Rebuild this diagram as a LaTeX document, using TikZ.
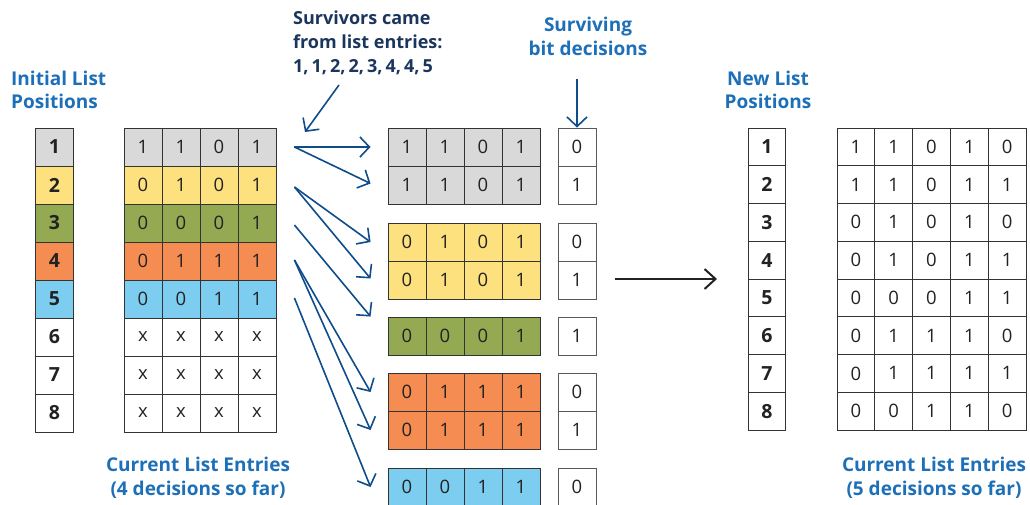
\documentclass[tikz,border=0pt]{standalone}
\usepackage{fontspec}
\setmainfont{Open Sans}
\usetikzlibrary{arrows.meta}
\definecolor{cgray}{HTML}{D9D9D9}
\definecolor{cyellow}{HTML}{FDE17E}
\definecolor{cgreen}{HTML}{93A952}
\definecolor{corange}{HTML}{F58C51}
\definecolor{cblue}{HTML}{7DCDF1}
\definecolor{tblue}{HTML}{1D6FB8}
\definecolor{navy}{HTML}{1B365D}
\definecolor{arrblue}{HTML}{0E4D8A}
\definecolor{gridline}{HTML}{333333}
\definecolor{txt}{HTML}{222222}
\begin{document}
\begin{tikzpicture}[x=1pt,y=-1pt,
  cell/.style={draw=gridline, line width=0.9pt, minimum width=38pt, minimum height=38pt,
    inner sep=0pt, text=txt, font=\fontsize{18.5}{18.5}\selectfont},
  ncell/.style={cell, minimum width=37.8pt, minimum height=37.75pt},
  poscell/.style={cell, font=\fontsize{19.5}{20}\bfseries\selectfont},
  nposcell/.style={ncell, font=\fontsize{19.5}{20}\bfseries\selectfont},
  title/.style={text=tblue, font=\fontsize{19}{23.5}\bfseries\selectfont, inner sep=0pt},
  survarrow/.style={draw=arrblue, line width=1.6pt,
    -{Straight Barb[length=9.5pt,width=20pt]}},
  bigarrow/.style={draw=txt, line width=2pt,
    -{Straight Barb[length=11pt,width=20pt]}}
]
\useasboundingbox (0,0) rectangle (1030,504);

% titles
\node[title, align=left, anchor=west] (tInit) at (11,90) {Initial List\\Positions};
\node[title, align=center] (tSurv) at (588,36.5) {Surviving\\bit decisions};
\node[title, align=center] (tNew) at (768,90) {New List\\Positions};
\node[title, align=center] (tCur) at (198,478) {Current List Entries\\(4 decisions so far)};
\node[title, align=center] (tCur5) at (934,478) {Current List Entries\\(5 decisions so far)};
\node[text=navy, font=\fontsize{18}{24}\bfseries\selectfont, inner sep=0pt, align=left, anchor=west]
  (tCame) at (293,42.5) {Survivors came\\from list entries:\\1,\,1,\,2,\,2,\,3,\,4,\,4,\,5};

% initial list positions
\foreach \i/\col in {1/cgray,2/cyellow,3/cgreen,4/corange,5/cblue,6/white,7/white,8/white}
  \node[poscell, fill=\col] (p\i) at (54.5,{147+38*(\i-1)}) {\i};

% current list entries
\foreach \r/\col/\bits in {1/cgray/{1,1,0,1},2/cyellow/{0,1,0,1},3/cgreen/{0,0,0,1},
    4/corange/{0,1,1,1},5/cblue/{0,0,1,1},6/white/{x,x,x,x},7/white/{x,x,x,x},8/white/{x,x,x,x}}
  \foreach \v [count=\j] in \bits
    \node[cell, fill=\col] (c\r-\j) at ({143+38*(\j-1)},{147+38*(\r-1)}) {\v};

% surviving paths
\foreach \r/\top/\col/\bits/\d in {1/128/cgray/{1,1,0,1}/0,2/166/cgray/{1,1,0,1}/1,
    3/223/cyellow/{0,1,0,1}/0,4/261/cyellow/{0,1,0,1}/1,5/317/cgreen/{0,0,0,1}/1,
    6/373/corange/{0,1,1,1}/0,7/411/corange/{0,1,1,1}/1,8/468/cblue/{0,0,1,1}/0}
{
  \foreach \v [count=\j] in \bits
    \node[cell, fill=\col] (m\r-\j) at ({407+38*(\j-1)},{\top+19}) {\v};
  \node[cell, draw=black!65] (b\r) at (577,{\top+19}) {\d};
}

% new list positions
\foreach \i in {1,...,8}
  \node[nposcell] (q\i) at (767,{128+37.75*(\i-0.5)}) {\i};

% new list entries
\foreach \r/\bits in {1/{1,1,0,1,0},2/{1,1,0,1,1},3/{0,1,0,1,0},4/{0,1,0,1,1},
    5/{0,0,0,1,1},6/{0,1,1,1,0},7/{0,1,1,1,1},8/{0,0,1,1,0}}
  \foreach \v [count=\j] in \bits
    \node[ncell] (n\r-\j) at ({837+37.8*(\j-0.5)},{128+37.75*(\r-0.5)}) {\v};

% connectors from current entries to survivors
\draw[survarrow] ([xshift=18pt]c1-4.east) -- ([xshift=-17pt]m1-1.west);
\draw[survarrow] ([xshift=18pt]c1-4.east) -- ([xshift=-17pt,yshift=1.5pt]m2-1.west);
\draw[survarrow] ([xshift=18pt,yshift=-2pt]c2-4.east) -- ([xshift=-17pt]m3-1.west);
\draw[survarrow] ([xshift=18pt,yshift=-2pt]c2-4.east) -- ([xshift=-17pt,yshift=1.5pt]m4-1.west);
\draw[survarrow] ([xshift=18pt,yshift=-2pt]c3-4.east) -- ([xshift=-17pt]m5-1.north west);
\draw[survarrow] ([xshift=18pt,yshift=1pt]c4-4.east) -- ([xshift=-17pt]m6-1.west);
\draw[survarrow] ([xshift=18pt,yshift=1pt]c4-4.east) -- ([xshift=-17pt]m7-1.west);
\draw[survarrow] ([xshift=18pt,yshift=1pt]c5-4.east) -- ([xshift=-17pt]m8-1.west);

% annotation arrows
\coordinate (cameFrom) at (339,85);
\coordinate (cameTo) at (305,132);
\draw[survarrow] (cameFrom) -- (cameTo);
\coordinate (decFrom) at (577,79);
\draw[survarrow] (decFrom) -- (b1.north);

% big arrow to new list
\coordinate (bigFrom) at (615,279);
\coordinate (bigTo) at (717,279);
\draw[bigarrow] (bigFrom) -- (bigTo);
\end{tikzpicture}
\end{document}
